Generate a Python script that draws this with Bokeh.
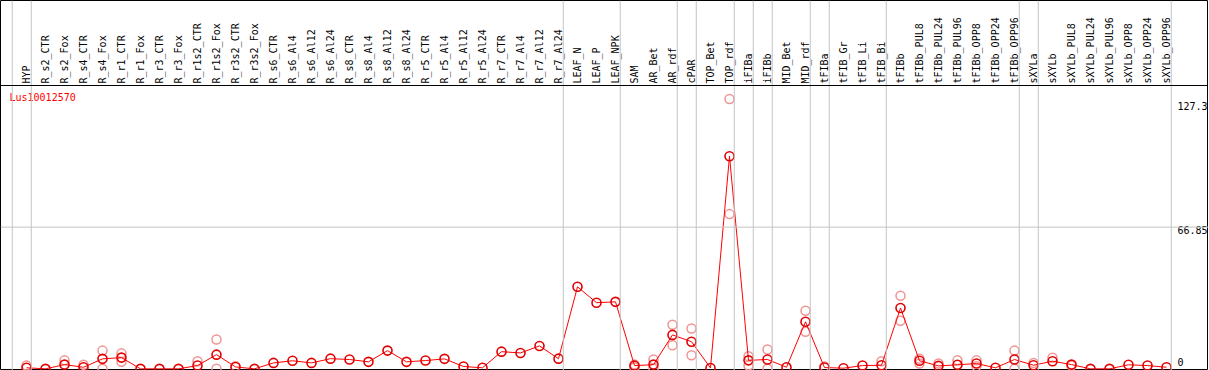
from bokeh.plotting import figure
from bokeh.models import Range1d, Span
from bokeh.core.properties import value
from bokeh.embed import file_html
from bokeh.resources import INLINE

gene = "Lus10012570"

categories = [
    "HYP", "R_s2_CTR", "R_s2_Fox", "R_s4_CTR", "R_s4_Fox", "R_r1_CTR", "R_r1_Fox",
    "R_r3_CTR", "R_r3_Fox", "R_r1s2_CTR", "R_r1s2_Fox", "R_r3s2_CTR", "R_r3s2_Fox",
    "R_s6_CTR", "R_s6_Al4", "R_s6_Al12", "R_s6_Al24", "R_s8_CTR", "R_s8_Al4",
    "R_s8_Al12", "R_s8_Al24", "R_r5_CTR", "R_r5_Al4", "R_r5_Al12", "R_r5_Al24",
    "R_r7_CTR", "R_r7_Al4", "R_r7_Al12", "R_r7_Al24", "LEAF_N", "LEAF_P", "LEAF_NPK",
    "SAM", "AR_Bet", "AR_rdf", "cPAR", "TOP_Bet", "TOP_rdf", "iFIBa", "iFIBb",
    "MID_Bet", "MID_rdf", "tFIBa", "tFIB_Gr", "tFIB_Li", "tFIB_Bi", "tFIBb",
    "tFIBb_PUL8", "tFIBb_PUL24", "tFIBb_PUL96", "tFIBb_OPP8", "tFIBb_OPP24",
    "tFIBb_OPP96", "sXYLa", "sXYLb", "sXYLb_PUL8", "sXYLb_PUL24", "sXYLb_PUL96",
    "sXYLb_OPP8", "sXYLb_OPP24", "sXYLb_OPP96",
]

means = [
    0.5, 0.0, 2.0, 0.75, 4.7, 5.3, 0.0,
    0.0, 0.0, 1.55, 6.7, 0.9, 0.0,
    2.8, 3.8, 2.8, 4.8, 4.4, 3.3,
    8.6, 3.3, 3.9, 4.7, 1.1, 0.5,
    8.1, 7.5, 10.8, 4.8, 38.7, 31.2, 31.6,
    1.5, 2.0, 16.0, 12.8, 0.4, 100.3, 4.0, 4.4,
    0.75, 22.2, 0.6, 0.3, 1.55, 1.7, 28.7,
    3.8, 1.4, 1.9, 2.5, 0.5,
    4.4, 1.7, 3.6, 2.0, 0.0, 0.0,
    1.9, 1.55, 0.75,
]

rep_categories = [
    "HYP", "R_s2_Fox", "R_s4_CTR", "R_s4_Fox", "R_s4_Fox", "R_r1_CTR", "R_r1_CTR",
    "R_r1s2_CTR", "R_r1s2_Fox", "R_r1s2_Fox", "R_r3s2_CTR", "SAM", "SAM",
    "AR_Bet", "AR_Bet", "AR_rdf", "AR_rdf", "cPAR", "cPAR", "TOP_rdf", "TOP_rdf",
    "iFIBa", "iFIBa", "iFIBb", "iFIBb", "MID_rdf", "MID_rdf", "tFIBa", "tFIB_Bi",
    "tFIBb", "tFIBb", "tFIBb_PUL8", "tFIBb_PUL8", "tFIBb_PUL24", "tFIBb_PUL96",
    "tFIBb_OPP8", "tFIBb_OPP8", "tFIBb_OPP96", "tFIBb_OPP96", "sXYLa", "sXYLb",
    "sXYLb_PUL8",
]
rep_values = [
    1.55, 4.0, 1.9, 8.6, 0.0, 7.3, 3.3,
    3.6, 13.8, 0.0, 1.2, 2.0, 0.6,
    4.4, 0.0, 20.8, 11.1, 19.0, 6.4, 127.3, 73.0,
    5.9, 1.6, 9.1, 0.0, 27.4, 17.5, 1.1, 3.6,
    34.5, 22.7, 4.8, 2.5, 2.5, 4.0,
    4.0, 1.2, 8.6, 0.0, 2.8, 5.2,
    1.6,
]

# index of the last category of each tissue group (-1 = before the first one)
group_ends = [-1, 0, 28, 31, 34, 35, 37, 38, 39, 41, 42, 45, 52, 53, 60]

tick_values = [127.3, 66.85, 0.0]
tick_labels = ["127.3", "66.85", "0"]

# ---------------- layout ----------------
W, H = 1208, 370
step = 19.0          # px per category
first_px = 26.0      # px position of first category
x_start = -first_px / step
x_end = x_start + W / step

ymax = max(tick_values)
header_y = ymax * 1.05
y_end = header_y * 1.3
k = 85.0 / (y_end - header_y)      # px per unit
y_start = y_end - H / k

xs = list(range(len(categories)))
idx = {c: i for i, c in enumerate(categories)}
rep_x = [idx[c] for c in rep_categories]

p = figure(width=W, height=H, output_backend="svg", toolbar_location=None,
           x_range=Range1d(x_start, x_end), y_range=Range1d(y_start, y_end),
           min_border=0, min_border_left=0, min_border_right=0,
           min_border_top=0, min_border_bottom=0)
p.axis.visible = False
p.xgrid.visible = False
p.ygrid.visible = False
p.outline_line_color = "black"
p.outline_line_width = 1
p.background_fill_color = "white"
p.border_fill_color = "white"

grid_col = "#c4c4c4"
for g in group_ends:
    p.add_layout(Span(location=g + 0.25, dimension="height",
                      line_color=grid_col, line_width=1))
p.add_layout(Span(location=tick_values[1], dimension="width",
                  line_color=grid_col, line_width=1))
p.add_layout(Span(location=header_y, dimension="width",
                  line_color="black", line_width=1))

# category labels (rotated)
p.text(x=xs, y=[header_y] * len(xs), text=categories, angle=1.5708,
       text_align="left", text_baseline="middle", y_offset=-2,
       text_font=value("DejaVu Sans Mono"), text_font_size="10px",
       text_color="black")

# gene name
p.text(x=[x_start], y=[header_y], text=[gene], x_offset=9, y_offset=12,
       text_align="left", text_baseline="middle",
       text_font=value("DejaVu Sans Mono"), text_font_size="10px",
       text_color="red")

# value labels on the right
p.text(x=[x_end] * 3, y=tick_values, text=tick_labels, x_offset=-31,
       y_offset=[7, 3, -7], text_align="left", text_baseline="middle",
       text_font=value("DejaVu Sans Mono"), text_font_size="10px",
       text_color="black")

# replicates
p.scatter(x=rep_x, y=rep_values, marker="circle", size=9, fill_color=None,
          line_color="#f09494", line_width=1.5)

# mean profile
p.line(x=xs, y=means, line_color="red", line_width=1)
p.scatter(x=xs, y=means, marker="circle", size=9, fill_color=None,
          line_color="#e00000", line_width=1.6)

open("out.html", "w").write(file_html(p, INLINE))
